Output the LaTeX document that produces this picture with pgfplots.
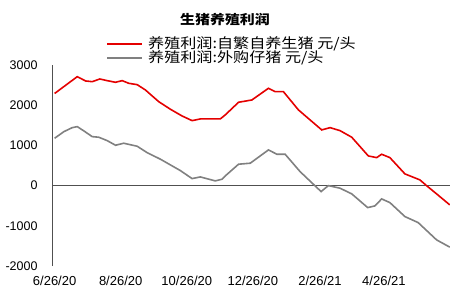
\documentclass[border=0pt]{standalone}
\usepackage{pgfplots}
\pgfplotsset{compat=1.18}
\usepackage{fontspec}
\setmainfont{Liberation Sans}
\newfontfamily\cjk[FakeStretch=1.15]{Noto Sans CJK SC}
\definecolor{redline}{RGB}{228,0,0}
\definecolor{grayline}{RGB}{128,128,128}
\definecolor{axisgray}{RGB}{80,80,80}
\begin{document}
\begin{tikzpicture}
\begin{axis}[name=ax, scale only axis, width=397bp, height=201bp,
  xmin=-1.5, xmax=365, ymin=-2000, ymax=3000,
  axis lines*=left, x axis line style={draw=none},
  y axis line style={axisgray, line width=1bp},
  tick style={draw=none},
  xtick={0,61,122,183,245,304},
  xticklabels={6/26/20,8/26/20,10/26/20,12/26/20,2/26/21,4/26/21},
  ytick={-2000,-1000,0,1000,2000,3000},
  yticklabels={-2000,-1000,0,1000,2000,3000},
  xticklabel style={font=\fontsize{13bp}{13bp}\selectfont, yshift=-6.5bp},
  yticklabel style={font=\fontsize{12.5bp}{12.5bp}\selectfont, xshift=-12bp},
  clip=false]
\addplot[axisgray, line width=1bp] coordinates {(-1.5,0) (365,0)};
\addplot[grayline, line width=1.6bp] coordinates {
(0,1178) (8.6,1343) (16.3,1442) (20.9,1467) (27,1360) (34.7,1218) (40.8,1203)
(48.5,1119) (56.2,1004) (63.8,1054) (76.2,979) (85.4,820) (97.7,656) (116.1,373)
(126.9,174) (134.5,216) (148.3,117) (154.5,159) (157.5,240) (169.8,532) (180.6,557)
(197.4,888) (205.2,780) (212.8,780) (226.6,348) (246,-149) (252.7,0) (263.5,-65)
(274.3,-206) (289,-547) (295.7,-505) (301.9,-331) (309.5,-423) (323.4,-771)
(335.6,-920) (352.6,-1350) (364.8,-1531)};
\addplot[redline, line width=1.6bp] coordinates {
(0,2292) (20.9,2710) (28.6,2603) (34.7,2585) (41.7,2652) (48.5,2611) (56.2,2570)
(62.4,2611) (68.4,2545) (76.2,2511) (83.8,2379) (96.1,2088) (106.9,1899)
(117.6,1733) (126.9,1616) (134.5,1658) (152.9,1658) (157.5,1758) (169.8,2073)
(182.1,2130) (197.4,2421) (203.6,2337) (211.2,2337) (225.1,1882) (246.6,1385)
(254.3,1442) (263.5,1367) (274.3,1203) (289.6,738) (297.3,696) (301.9,780)
(309.5,696) (323.4,291) (337.2,142) (343.3,0) (352.6,-206) (364.8,-480)};
\end{axis}
\node[font=\cjk\bfseries\fontsize{13bp}{13bp}\selectfont] at ([shift={(172bp,246bp)}]ax.south west) {生猪养殖利润};
\draw[redline, line width=1.6bp] ([shift={(54bp,222bp)}]ax.south west) -- ++(35bp,0);
\draw[grayline, line width=1.6bp] ([shift={(54bp,207.7bp)}]ax.south west) -- ++(35bp,0);
\node[anchor=west, inner sep=0pt, font=\cjk\fontsize{14bp}{14bp}\selectfont] at ([shift={(95bp,222bp)}]ax.south west) {养殖利润:自繁自养生猪 元/头};
\node[anchor=west, inner sep=0pt, font=\cjk\fontsize{14bp}{14bp}\selectfont] at ([shift={(95bp,207.7bp)}]ax.south west) {养殖利润:外购仔猪 元/头};
\pgfresetboundingbox
\path ([shift={(-53bp,-34bp)}]ax.south west) rectangle ([shift={(397bp,266bp)}]ax.south west);
\end{tikzpicture}
\end{document}
